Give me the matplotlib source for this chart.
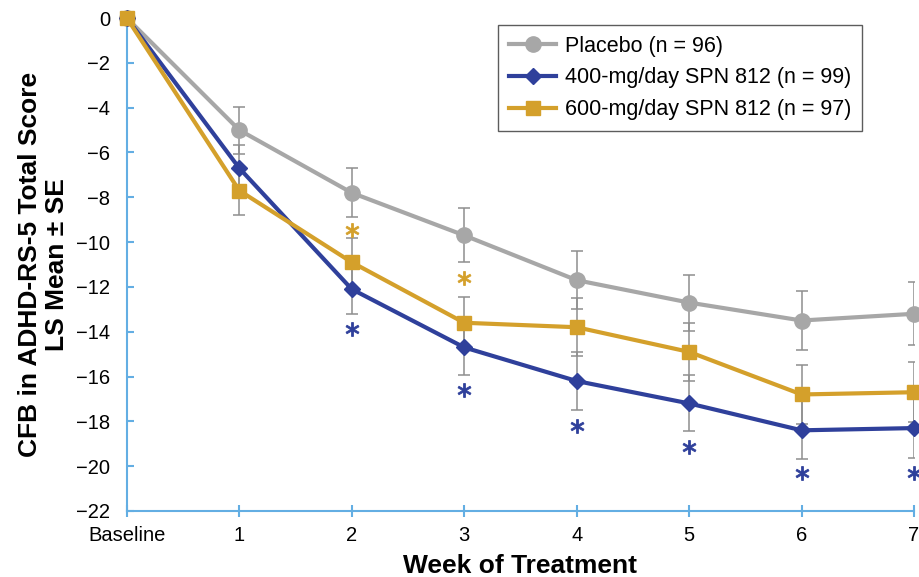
import numpy as np
import matplotlib.pyplot as plt

weeks = [0, 1, 2, 3, 4, 5, 6, 7]
week_labels = ['Baseline', '1', '2', '3', '4', '5', '6', '7']

placebo = [0, -5.0, -7.8, -9.7, -11.7, -12.7, -13.5, -13.2]
placebo_se = [0, 1.05, 1.1, 1.2, 1.3, 1.25, 1.3, 1.4]
spn400 = [0, -6.7, -12.1, -14.7, -16.2, -17.2, -18.4, -18.3]
spn400_se = [0, 1.05, 1.1, 1.25, 1.3, 1.25, 1.3, 1.35]
spn600 = [0, -7.7, -10.9, -13.6, -13.8, -14.9, -16.8, -16.7]
spn600_se = [0, 1.1, 1.1, 1.15, 1.3, 1.3, 1.3, 1.35]

# significance marks (week, y of asterisk)
star400_wk = [2, 3, 4, 5, 6, 7]
star400_y = [-13.9, -16.6, -18.2, -19.15, -20.3, -20.3]
star600_wk = [2, 3]
star600_y = [-9.45, -11.6]

GRAY = '#a7a7a7'
BLUE = '#2f409b'
GOLD = '#d4a02b'
AXIS = '#63aee3'

plt.rcParams['font.family'] = ['Liberation Sans', 'DejaVu Sans']

fig = plt.figure(figsize=(9.19, 5.77), dpi=100)
ax = fig.add_axes([0.138, 0.1144, 0.8566, 0.8544])

series = [
    (placebo, placebo_se, GRAY, 'o', 11, 'Placebo (n = 96)'),
    (spn400, spn400_se, BLUE, 'D', 8, '400-mg/day SPN 812 (n = 99)'),
    (spn600, spn600_se, GOLD, 's', 10, '600-mg/day SPN 812 (n = 97)'),
]

# error bars first, underneath the lines
for vals, se, col, mk, ms, lab in series:
    ax.errorbar(weeks[1:], vals[1:], yerr=se[1:], fmt='none', ecolor='#8e8e8e',
                elinewidth=1.1, capsize=4, capthick=1.1, zorder=2)

for vals, se, col, mk, ms, lab in series:
    ax.plot(weeks, vals, color=col, lw=3, marker=mk, ms=ms, label=lab,
            zorder=3, clip_on=False)

ax.plot(star400_wk, star400_y, ls='none', marker=r'$\ast$', ms=10, color=BLUE,
        mew=0.6, clip_on=False, zorder=4)
ax.plot(star600_wk, star600_y, ls='none', marker=r'$\ast$', ms=10, color=GOLD,
        mew=0.6, clip_on=False, zorder=4)

ax.set_xlim(0, 7)
ax.set_ylim(-22, 0)
ax.set_yticks(np.arange(-22, 1, 2))
ax.set_xticks(weeks)
ax.set_xticklabels(week_labels)

for s in ['top', 'right']:
    ax.spines[s].set_visible(False)
for s in ['left', 'bottom']:
    ax.spines[s].set_color(AXIS)
    ax.spines[s].set_linewidth(1.5)

ax.tick_params(axis='y', direction='in', length=5, color=AXIS, width=1.5,
               labelsize=14.5, pad=12)
ax.tick_params(axis='x', direction='inout', length=9, color=AXIS, width=1.5,
               labelsize=14.5, pad=6)

ax.set_xlabel('Week of Treatment', fontsize=19, fontweight='bold', labelpad=7)
ax.set_ylabel('CFB in ADHD-RS-5 Total Score\nLS Mean \u00b1 SE', fontsize=19,
              fontweight='bold', labelpad=5, linespacing=1.15)

leg = ax.legend(loc='upper right', bbox_to_anchor=(0.934, 0.986), fontsize=15.5,
                frameon=True, fancybox=False, edgecolor='#333333',
                handlelength=2.2, borderpad=0.5, labelspacing=0.5,
                handletextpad=0.4, borderaxespad=0)
leg.get_frame().set_linewidth(1.0)

fig.savefig('out.png', dpi=100)
